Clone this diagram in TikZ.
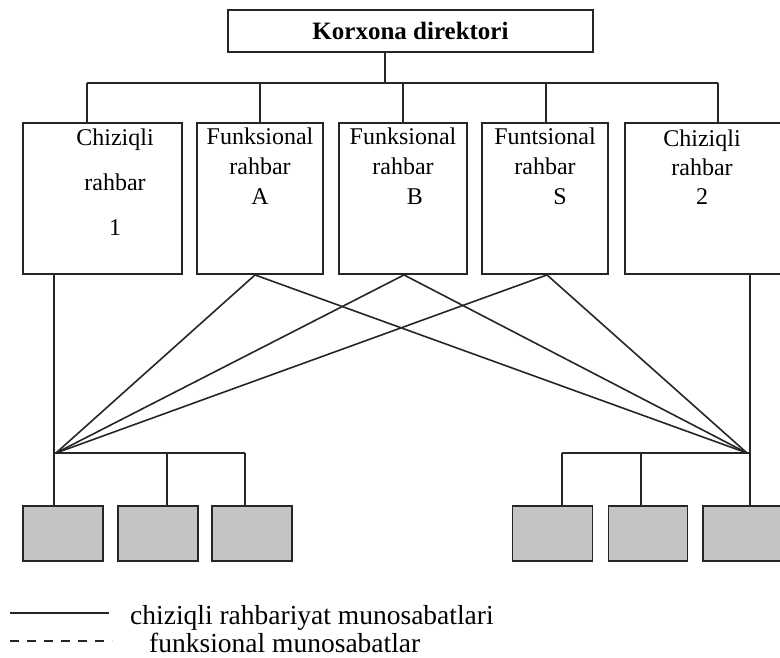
\documentclass[tikz,border=0pt]{standalone}
\usepackage{fontspec}
\setmainfont{Liberation Serif}
\definecolor{ink}{HTML}{262626}
\definecolor{boxgray}{HTML}{C4C4C4}
\tikzset{
  conn/.style={draw=ink, line width=1.8pt},
  headbox/.style={draw=ink, line width=1.9pt, fill=white, minimum width=365pt, minimum height=42pt, inner sep=0pt, font=\fontsize{25}{30}\selectfont\bfseries},
  mgrbox/.style={draw=ink, line width=1.9pt, fill=white, minimum height=151pt, inner sep=0pt},
  mgrtext/.style={inner sep=0pt, align=center, font=\fontsize{24}{30}\selectfont},
  unitbox/.style={draw=ink, line width=1.9pt, fill=boxgray, minimum width=80pt, minimum height=55pt, inner sep=0pt},
  legtext/.style={inner sep=0pt, anchor=base west, font=\fontsize{27.5}{32}\selectfont}
}
\begin{document}
\begin{tikzpicture}[x=1pt,y=-1pt]
\useasboundingbox (0,0) rectangle (780,658);
\clip (0,0) rectangle (780,658);

% head
\node[headbox] (top) at (410.5,31) {Korxona direktori};

% managers
\node[mgrbox, minimum width=159pt] (b1) at (102.5,198.5) {};
\node[mgrbox, minimum width=126pt] (bA) at (260,198.5) {};
\node[mgrbox, minimum width=128pt] (bB) at (403,198.5) {};
\node[mgrbox, minimum width=126pt] (bS) at (545,198.5) {};
\node[mgrbox, minimum width=166pt] (b2) at (708,198.5) {};

\node[mgrtext, font=\fontsize{24}{45}\selectfont] (t1) at (115,182) {Chiziqli\\rahbar\\1};
\node[mgrtext] (tA) at (260,166) {Funksional\\rahbar\\A};
\node[mgrtext] (tB) at (403,166) {Funksional\\rahbar\\\hspace*{24pt}B};
\node[mgrtext] (tS) at (545,166) {Funtsional\\rahbar\\\hspace*{30pt}S};
\node[mgrtext, font=\fontsize{24}{29}\selectfont] (t2) at (702,167) {Chiziqli\\rahbar\\2};

% units
\node[unitbox] (u1) at (63,533.5) {};
\node[unitbox] (u2) at (158,533.5) {};
\node[unitbox] (u3) at (252,533.5) {};
\node[unitbox] (u4) at (552.5,533.5) {};
\node[unitbox, minimum width=79pt] (u5) at (648,533.5) {};
\node[unitbox] (u6) at (743,533.5) {};

% coordinates for buses
\coordinate (j) at (385,83);
\coordinate (dl) at (87,83);
\coordinate (dr) at (718,83);
\coordinate (hl) at (54,453);
\coordinate (hr) at (750,453);
\coordinate (ll) at (245,453);
\coordinate (lm) at (167,453);
\coordinate (rl) at (562,453);
\coordinate (rm) at (641,453);

% top-level connectors
\draw[conn] (top.south -| j) -- (j);
\draw[conn] (dl) -- (dr);
\draw[conn] (dl) -- (dl |- b1.north);
\draw[conn] (bA.north) -- (bA.north |- j);
\draw[conn] (bB.north) -- (bB.north |- j);
\draw[conn] (bS.north -| 546,0) -- (546,83);
\draw[conn] (dr) -- (dr |- b2.north);

% line managers to units
\draw[conn] (b1.south -| hl) -- (hl);
\draw[conn] (hl) -- (ll);
\draw[conn] (hl) -- (hl |- u1.north);
\draw[conn] (lm) -- (lm |- u2.north);
\draw[conn] (ll) -- (ll |- u3.north);
\draw[conn] (b2.south -| hr) -- (hr);
\draw[conn] (rl) -- (hr);
\draw[conn] (rl) -- (rl |- u4.north);
\draw[conn] (rm) -- (rm |- u5.north);
\draw[conn] (hr) -- (hr |- u6.north);

% functional links
\foreach \b/\dx in {bA/-5, bB/1, bS/2} {
  \draw[conn, line width=1.6pt] ([xshift=\dx pt]\b.south) -- ([xshift=2pt]hl);
  \draw[conn, line width=1.6pt] ([xshift=\dx pt]\b.south) -- ([xshift=-3pt]hr);
}

% legend
\coordinate (ls1) at (10,613);
\coordinate (ls2) at (109,613);
\coordinate (ld1) at (10,641);
\coordinate (ld2) at (112,641);
\draw[conn, line width=2.1pt] (ls1) -- (ls2);
\draw[conn, line width=2.1pt, dash pattern=on 9pt off 8pt] (ld1) -- (ld2);
\node[legtext] (leg1) at (130,624) {chiziqli rahbariyat munosabatlari};
\node[legtext] (leg2) at (149,652) {funksional munosabatlar};
\end{tikzpicture}
\end{document}
